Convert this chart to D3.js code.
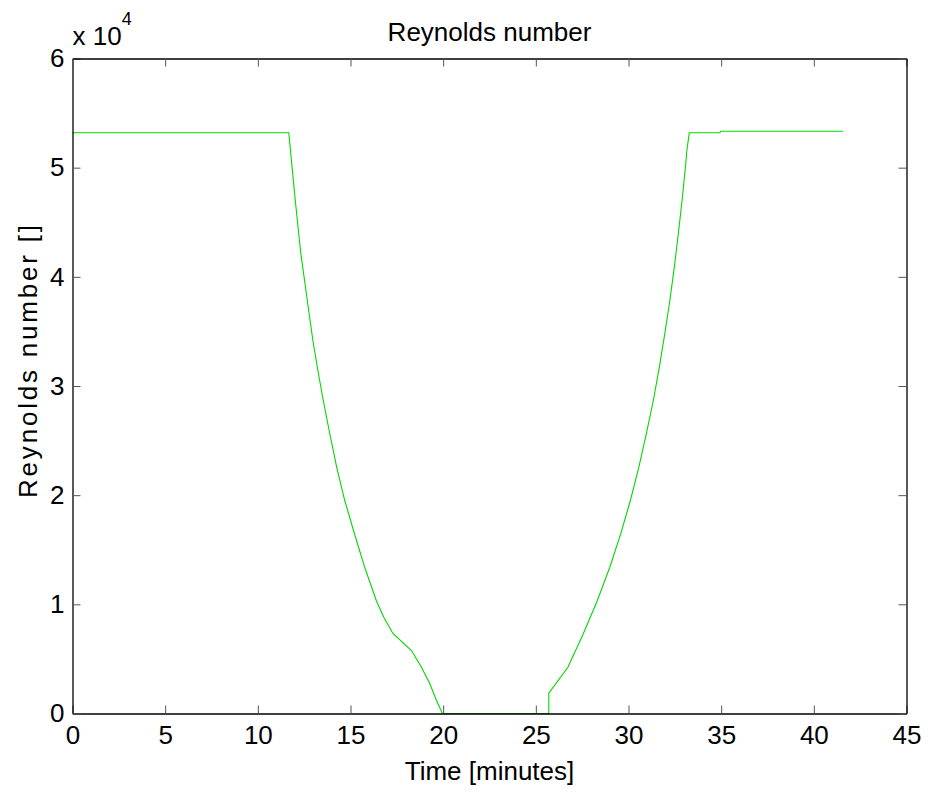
<!DOCTYPE html>
<html>
<head>
<meta charset="utf-8">
<script src="https://cdn.jsdelivr.net/npm/d3@7"></script>
<style>
  html, body { margin: 0; padding: 0; background: #fff; }
  svg text { font-family: "Liberation Sans", Arial, sans-serif; fill: #000; }
</style>
</head>
<body>
<svg id="chart" width="928" height="792"></svg>
<script>
// Reynolds number over a drain/refill cycle
const timeMinutes = [
  0, 11.67, 12.02, 12.32, 12.67, 12.97, 13.24, 13.53, 13.88, 14.26, 14.69,
  15.21, 15.77, 16.39, 16.80, 17.29, 18.29, 18.83, 19.28, 19.64, 19.96,
  25.70, 25.70, 26.73, 27.56, 28.32, 28.99, 29.58, 30.10, 30.56, 30.96,
  31.34, 31.66, 31.96, 32.23, 32.47, 32.69, 32.89, 33.07, 33.15, 33.28,
  34.93, 34.98, 41.58
];
const reynolds = [
  53200, 53200, 46990, 42140, 37830, 34170, 31420, 28670, 25650, 22530, 19510,
  16490, 13370, 10350, 8790, 7330, 5770, 4240, 2720, 1190, 0,
  0, 1860, 4240, 7300, 10350, 13400, 16460, 19510, 22560, 25620,
  28670, 31690, 34810, 37830, 40850, 43970, 46990, 50010, 51570, 53200,
  53200, 53340, 53340
];
const xTicks = [0, 5, 10, 15, 20, 25, 30, 35, 40, 45];
const yTicks = [0, 10000, 20000, 30000, 40000, 50000, 60000];

const titleText = "Reynolds number";
const xLabel = "Time [minutes]";
const yLabel = "Reynolds number []";

const svg = d3.select("#chart");
const plotLeft = 72.5, plotRight = 906.5, plotTop = 58.5, plotBottom = 713.5;

const x = d3.scaleLinear().domain([0, 45]).range([plotLeft, plotRight]);
const y = d3.scaleLinear().domain([0, 60000]).range([plotBottom, plotTop]);

const fontSize = 26;
const tickLen = 8;

// data line
const pts = timeMinutes.map((t, i) => [t, reynolds[i]]);
svg.append("path")
  .datum(pts)
  .attr("fill", "none")
  .attr("stroke", "#00d800")
  .attr("stroke-width", 1.1)
  .attr("d", d3.line().x(d => x(d[0])).y(d => y(d[1])));

// axes: bottom/left with labels, top/right mirrored ticks (inward)
const fmtY = d => String(d / 10000);
const bottomAxis = d3.axisBottom(x).tickValues(xTicks).tickSizeInner(-tickLen).tickSizeOuter(0).tickPadding(12);
const leftAxis = d3.axisLeft(y).tickValues(yTicks).tickFormat(fmtY).tickSizeInner(-tickLen).tickSizeOuter(0).tickPadding(8);
const topAxis = d3.axisTop(x).tickValues(xTicks).tickSizeInner(-tickLen).tickSizeOuter(0).tickFormat("");
const rightAxis = d3.axisRight(y).tickValues(yTicks).tickSizeInner(-tickLen).tickSizeOuter(0).tickFormat("");

function styleAxis(g) {
  g.select(".domain").attr("stroke", "#000").attr("stroke-width", 1.3);
  g.selectAll(".tick line").attr("stroke", "#555").attr("stroke-width", 1);
  g.selectAll(".tick text").attr("font-size", fontSize).attr("font-family", "Liberation Sans, Arial, sans-serif").attr("fill", "#000");
}

svg.append("g").attr("transform", `translate(0,${plotBottom})`).call(bottomAxis).call(styleAxis);
svg.append("g").attr("transform", `translate(${plotLeft},0)`).call(leftAxis).call(styleAxis);
svg.append("g").attr("transform", `translate(0,${plotTop})`).call(topAxis).call(styleAxis);
svg.append("g").attr("transform", `translate(${plotRight},0)`).call(rightAxis).call(styleAxis);

// exponent label
const ex = svg.append("text").attr("x", plotLeft).attr("y", 45).attr("font-size", fontSize);
ex.append("tspan").text("x 10");
ex.append("tspan").attr("dy", -20).attr("font-size", 18).text("4");

// title
svg.append("text")
  .attr("x", (plotLeft + plotRight) / 2).attr("y", 41)
  .attr("text-anchor", "middle").attr("font-size", fontSize)
  .text(titleText);

// x label
svg.append("text")
  .attr("x", (plotLeft + plotRight) / 2).attr("y", 780)
  .attr("text-anchor", "middle").attr("font-size", fontSize)
  .text(xLabel);

// y label (rotated, anchored at its start with slightly open spacing)
svg.append("text")
  .attr("transform", `translate(37,498) rotate(-90)`)
  .attr("text-anchor", "start").attr("font-size", fontSize)
  .attr("letter-spacing", 2.8)
  .text(yLabel);
</script>
</body>
</html>
